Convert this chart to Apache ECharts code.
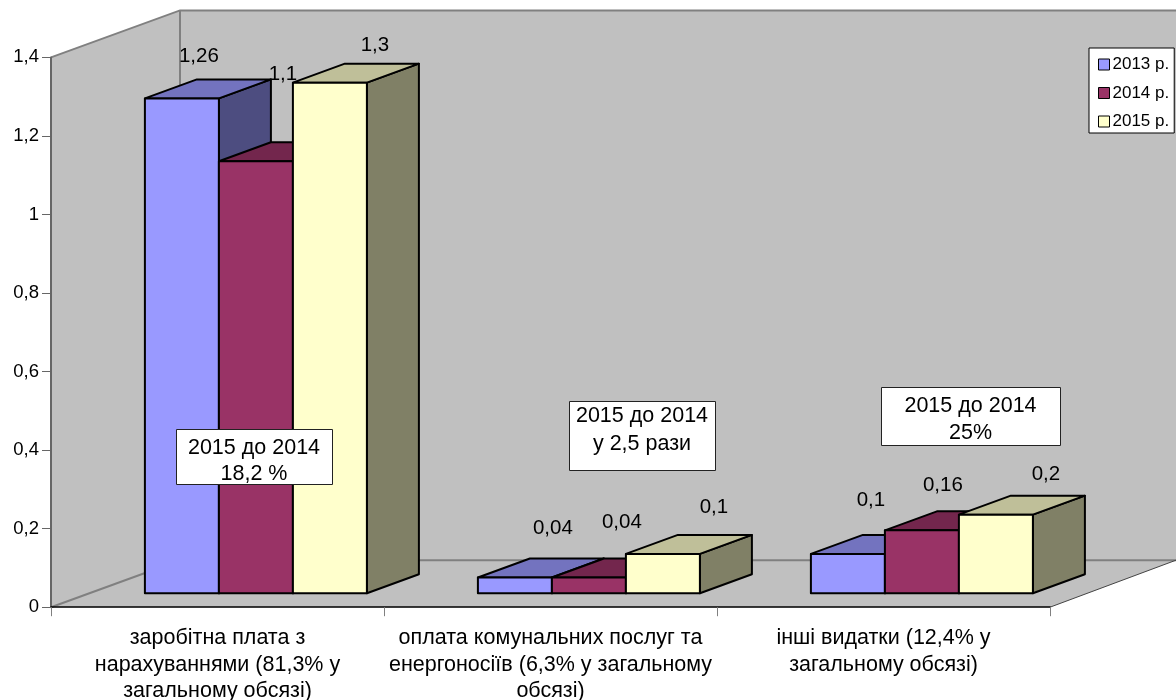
<!DOCTYPE html>
<html>
<head>
<meta charset="utf-8">
<style>
  html, body { margin: 0; padding: 0; background: #fff; }
  #chart { width: 1176px; height: 700px; }
</style>
<script src="https://cdn.jsdelivr.net/npm/echarts@6/dist/echarts.min.js"></script>
</head>
<body>
<div id="chart"></div>
<script>
  // data
  var categories = [
    'заробітна плата з\nнарахуваннями (81,3% у\nзагальному обсязі)',
    'оплата комунальних послуг та\nенергоносіїв (6,3% у загальному\nобсязі)',
    'інші видатки (12,4% у\nзагальному обсязі)'
  ];
  var years = ['2013 р.', '2014 р.', '2015 р.'];
  var values2013 = [1.26, 0.04, 0.1];
  var values2014 = [1.1, 0.04, 0.16];
  var values2015 = [1.3, 0.1, 0.2];
  var yTicks = [0, 0.2, 0.4, 0.6, 0.8, 1, 1.2, 1.4];

  // layout of the fake 3d box
  var FONT = '"Liberation Sans", Arial, sans-serif';
  var gridLeft = 51, gridRight = 1050, gridTop = 57.4, gridBottom = 607.2;
  var wallDx = 129, wallDy = -47;      // front plane -> back wall
  var barDx = 38.4, barDy = -14;       // front plane -> front of the bars
  var depthDx = 52, depthDy = -19;     // depth of one bar
  var barWidth = 74;

  var colors = [
    { front: '#9999FF', top: '#7373BF', side: '#4D4D80' },
    { front: '#993366', top: '#73264D', side: '#4D1A33' },
    { front: '#FFFFCC', top: '#BFBF99', side: '#808066' }
  ];

  // label offset from the middle of a bar's top front edge, per series and category
  var labelShift = [
    [[17, -42], [38, -49], [23, -54]],
    [[27, -87], [33, -55], [21, -45]],
    [[45, -37], [51, -47], [50, -40]]
  ];

  var notes = [
    { x: 176, y: 429, w: 156, h: 55, lines: ['2015 до 2014', '18,2 %'], ly: [448, 474] },
    { x: 569, y: 401, w: 146, h: 69, lines: ['2015 до 2014', 'у 2,5 рази'], ly: [416, 444] },
    { x: 881, y: 387, w: 179, h: 58, lines: ['2015 до 2014', '25%'], ly: [406, 433] }
  ];

  function face(points, fill) {
    return {
      type: 'polygon',
      shape: { points: points },
      style: { fill: fill, stroke: '#000', lineWidth: 2, lineJoin: 'round' }
    };
  }

  function makeBarRender(seriesIndex) {
    return function (params, api) {
      var cat = api.value(0);
      var base = api.coord([cat, 0]);
      var top = api.coord([cat, api.value(1)]);
      var cx = base[0] + barDx;
      var x0 = cx - barWidth * 1.5 + barWidth * seriesIndex;
      var x1 = x0 + barWidth;
      var y0 = base[1] + barDy;
      var y1 = top[1] + barDy;
      var c = colors[seriesIndex];
      var shift = labelShift[seriesIndex][cat];
      return {
        type: 'group',
        children: [
          face([[x1, y0], [x1 + depthDx, y0 + depthDy], [x1 + depthDx, y1 + depthDy], [x1, y1]], c.side),
          face([[x0, y1], [x1, y1], [x1 + depthDx, y1 + depthDy], [x0 + depthDx, y1 + depthDy]], c.top),
          face([[x0, y0], [x1, y0], [x1, y1], [x0, y1]], c.front),
          {
            type: 'text',
            z2: 50,
            style: {
              x: (x0 + x1) / 2 + shift[0],
              y: y1 + shift[1],
              text: String(api.value(1)).replace('.', ','),
              font: '20.5px ' + FONT,
              fill: '#000',
              align: 'center',
              verticalAlign: 'middle'
            }
          }
        ]
      };
    };
  }

  function makeSeries(name, values, idx) {
    return {
      name: name,
      type: 'custom',
      z: 3,
      itemStyle: { color: colors[idx].front },
      renderItem: makeBarRender(idx),
      encode: { x: 0, y: 1 },
      data: values.map(function (v, i) { return [i, v]; })
    };
  }

  // walls and floor
  var backL = gridLeft + wallDx, backTop = gridTop + wallDy, backBottom = gridBottom + wallDy;
  var wallLine = { stroke: '#808080', lineWidth: 2 };
  var graphics = [
    { type: 'polygon', z: 0, shape: { points: [[backL, backTop], [1176, backTop], [1176, backBottom], [backL, backBottom]] }, style: { fill: '#C0C0C0' } },
    { type: 'polygon', z: 0, shape: { points: [[gridLeft, gridTop], [backL, backTop], [backL, backBottom], [gridLeft, gridBottom]] }, style: { fill: '#C0C0C0' } },
    { type: 'polygon', z: 0, shape: { points: [[gridLeft, gridBottom], [backL, backBottom], [1176, backBottom], [gridRight, gridBottom]] }, style: { fill: '#C0C0C0' } },
    { type: 'polyline', z: 1, shape: { points: [[gridLeft, gridTop], [backL, backTop], [1176, backTop]] }, style: wallLine },
    { type: 'polyline', z: 1, shape: { points: [[backL, backTop], [backL, backBottom], [1176, backBottom]] }, style: wallLine },
    { type: 'line', z: 1, shape: { x1: gridLeft, y1: gridBottom, x2: backL, y2: backBottom }, style: wallLine },
    { type: 'line', z: 1, shape: { x1: gridRight, y1: gridBottom, x2: 1176, y2: backBottom }, style: { stroke: '#444', lineWidth: 1 } }
  ];
  notes.forEach(function (n) {
    graphics.push({
      type: 'rect', z: 10,
      shape: { x: n.x + 0.5, y: n.y + 0.5, width: n.w, height: n.h },
      style: { fill: '#fff', stroke: '#222', lineWidth: 1 }
    });
    n.lines.forEach(function (line, i) {
      graphics.push({
        type: 'text', z: 11,
        style: {
          x: n.x + n.w / 2, y: n.ly[i], text: line,
          font: '21.5px ' + FONT, fill: '#000', align: 'center', verticalAlign: 'middle'
        }
      });
    });
  });

  var myChart = echarts.init(document.getElementById('chart'));
  myChart.setOption({
    animation: false,
    backgroundColor: '#fff',
    textStyle: { fontFamily: FONT },
    grid: {
      left: gridLeft,
      top: gridTop,
      width: gridRight - gridLeft,
      height: gridBottom - gridTop,
      containLabel: false,
      outerBoundsMode: 'none'
    },
    legend: {
      data: years,
      orient: 'vertical',
      left: 1089,
      top: 48,
      padding: [8, 5, 3, 9],
      itemGap: 11.5,
      itemWidth: 11,
      itemHeight: 11,
      icon: 'rect',
      backgroundColor: '#fff',
      borderColor: '#000',
      borderWidth: 1,
      z: 12,
      textStyle: { fontSize: 17, color: '#000', fontFamily: FONT, padding: [0, 0, 0, -2] },
      itemStyle: { borderColor: '#000', borderWidth: 1 }
    },
    xAxis: {
      type: 'category',
      data: categories,
      z: 2,
      boundaryGap: true,
      axisLine: { lineStyle: { color: '#000', width: 1.5 } },
      axisTick: { show: true, length: 9, alignWithLabel: false, lineStyle: { color: '#808080', width: 1 } },
      axisLabel: { interval: 0, fontSize: 21.5, color: '#000', fontFamily: FONT, lineHeight: 26.5, margin: 18 }
    },
    yAxis: {
      type: 'value',
      min: yTicks[0],
      max: yTicks[yTicks.length - 1],
      interval: 0.2,
      z: 2,
      splitLine: { show: false },
      axisLine: { show: true, lineStyle: { color: '#666', width: 2 } },
      axisTick: { show: true, length: 9, lineStyle: { color: '#666', width: 1 } },
      axisLabel: {
        fontSize: 18.5,
        color: '#000',
        fontFamily: FONT,
        margin: 12,
        padding: [2, 0, 0, 0],
        formatter: function (v) { return String(v).replace('.', ','); }
      }
    },
    series: [
      makeSeries(years[0], values2013, 0),
      makeSeries(years[1], values2014, 1),
      makeSeries(years[2], values2015, 2)
    ],
    graphic: graphics
  });
</script>
</body>
</html>
